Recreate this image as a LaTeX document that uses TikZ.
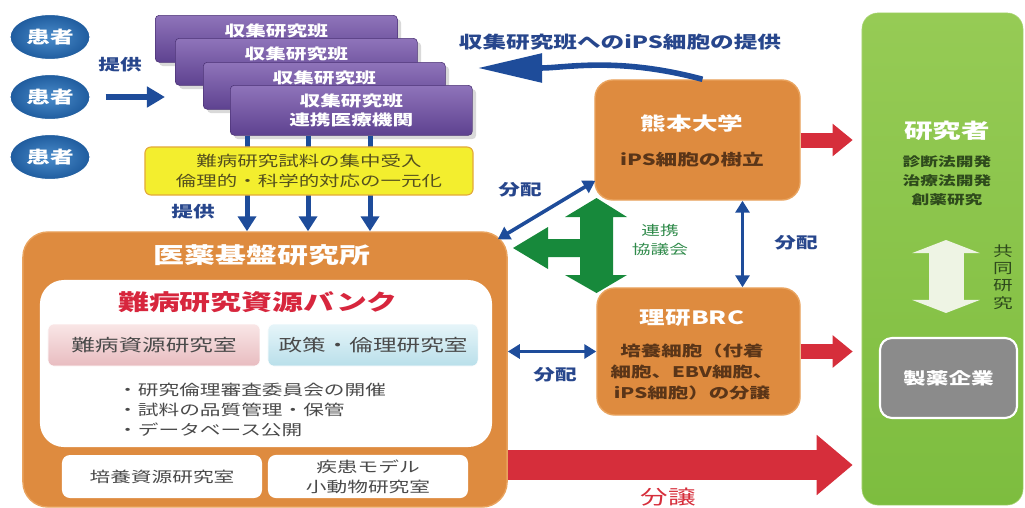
\documentclass[tikz,border=0pt]{standalone}
\usepackage{fontspec}
\setmainfont[FakeStretch=1.4]{Noto Sans CJK JP}
\usepackage{tikz}
\usetikzlibrary{arrows.meta, calc, positioning, shapes.geometric, shadows}

\definecolor{patblue}{HTML}{1F5C9E}
\definecolor{patlight}{HTML}{4A8CCB}
\definecolor{grptop}{HTML}{8F74BA}
\definecolor{grpbot}{HTML}{5E4290}
\definecolor{grpline}{HTML}{4B3275}
\definecolor{arrblue}{HTML}{1E4C9A}
\definecolor{lblblue}{HTML}{27468C}
\definecolor{instorange}{HTML}{DE8B3F}
\definecolor{instline}{HTML}{E9A35E}
\definecolor{yelfill}{HTML}{F3EE2E}
\definecolor{yelline}{HTML}{E3A93A}
\definecolor{yeltext}{HTML}{55501E}
\definecolor{bankred}{HTML}{D7263D}
\definecolor{arrred}{HTML}{D62E3B}
\definecolor{pinktop}{HTML}{F9E6E6}
\definecolor{pinkbot}{HTML}{E8BCC0}
\definecolor{icetop}{HTML}{E6F5F9}
\definecolor{icebot}{HTML}{B9DFEA}
\definecolor{labgray}{HTML}{4A4A4A}
\definecolor{unitext}{HTML}{5A3518}
\definecolor{crossgreen}{HTML}{17893B}
\definecolor{lblgreen}{HTML}{2F8A4A}
\definecolor{paneltop}{HTML}{96CB55}
\definecolor{panelbot}{HTML}{7DBD3F}
\definecolor{darkgreen}{HTML}{2E4A1C}
\definecolor{coopwhite}{HTML}{EEF4E4}
\definecolor{pharmagray}{HTML}{8B8B8B}

\tikzset{
  patient/.style={ellipse, draw=white, line width=0.8pt, inner color=patlight, outer color=patblue,
    minimum width=2cm, minimum height=1.125cm, text=white, font=\bfseries\fontsize{12}{14}\selectfont},
  grpbox/.style={draw=grpline, rounded corners=0.1cm, top color=grptop, bottom color=grpbot,
    drop shadow={opacity=0.3}, minimum width=6.05cm, minimum height=1.175cm, anchor=north west,
    text=white, font=\bfseries\fontsize{10.5}{14}\selectfont, align=center},
  grptext/.style={text=white, font=\bfseries\fontsize{10.5}{14}\selectfont},
  bluelbl/.style={text=lblblue, font=\bfseries\fontsize{11}{13}\selectfont},
  givearr/.style={draw=arrblue, line width=0.15cm, -{Triangle[length=0.45cm, width=0.5cm]}},
  supply/.style={draw=arrblue, line width=0.125cm, -{Triangle[length=0.375cm, width=0.45cm]}},
  dist/.style={draw=arrblue, line width=0.09cm,
    {Triangle[length=0.3cm, width=0.35cm]}-{Triangle[length=0.3cm, width=0.35cm]}},
  ipsarr/.style={draw=arrblue, line width=0.14cm, -{Triangle[length=1.6cm, width=0.7cm]}},
  yelbox/.style={draw=yelline, line width=0.8pt, fill=yelfill, rounded corners=0.15cm,
    minimum width=8.2cm, minimum height=1.2cm, align=center, text=yeltext,
    font=\fontsize{10.4}{14.2}\selectfont},
  inst/.style={draw=instline, line width=1pt, fill=instorange, rounded corners=0.625cm,
    minimum width=12.1cm, minimum height=6.875cm},
  bank/.style={fill=white, rounded corners=0.6cm, minimum width=11.3cm, minimum height=4.175cm},
  lab/.style={rounded corners=0.15cm, draw=white, minimum height=1.05cm, text=labgray,
    font=\fontsize{12}{14}\selectfont},
  sublab/.style={fill=white, rounded corners=0.2cm, minimum width=5cm, minimum height=1.075cm,
    align=center, text=labgray, font=\fontsize{10.5}{14.2}\selectfont},
  unibox/.style={fill=instorange, draw=instline, line width=1pt, rounded corners=0.45cm},
  unititle/.style={text=white, font=\bfseries\fontsize{13}{16}\selectfont},
  unitxt/.style={text=unitext, align=center},
  redarr/.style={draw=arrred, line width=0.375cm, -{Triangle[length=0.5cm, width=0.78cm]}},
  bigred/.style={draw=arrred, line width=0.75cm, -{Triangle[length=0.9cm, width=1.45cm]}},
  panel/.style={top color=paneltop, bottom color=panelbot, draw=paneltop!80!white,
    rounded corners=0.4cm, minimum width=4.025cm, minimum height=12.3cm},
  restext/.style={text=darkgreen, align=center, font=\bfseries\fontsize{9}{13.5}\selectfont},
  coop/.style={draw=coopwhite, line width=0.875cm,
    {Triangle[length=0.33cm, width=1.7cm]}-{Triangle[length=0.33cm, width=1.7cm]}},
  pharma/.style={fill=pharmagray, draw=white, line width=1.5pt, rounded corners=0.3cm,
    minimum width=3.425cm, minimum height=2cm, text=white, font=\bfseries\fontsize{11.5}{14}\selectfont}
}

\begin{document}
\begin{tikzpicture}[x=0.025cm, y=-0.025cm]
\useasboundingbox (0,0) rectangle (1025,507);

% patients
\node[patient] (pat1) at (50,37) {患者};
\node[patient] (pat2) at (50,97) {患者};
\node[patient] (pat3) at (50,157) {患者};
\node[bluelbl] (give1) at (120,65) {提供};
\coordinate (givetip) at (165,97);
\draw[givearr, shorten <=0.375cm] (pat2) -- (givetip);

% collection groups
\foreach \i/\x/\y in {1/155/15, 2/175/38, 3/203/62} {
  \node[grpbox] (grp\i) at (\x,\y) {};
  \node[grptext] (grptxt\i) at ($(grp\i.north)+(0,16)$) {収集研究班};
}
\node[grpbox, minimum height=1.25cm] (grp4) at (230,85) {収集研究班\\連携医療機関};

% institute
\node[inst] (inst) at (265,369.5) {};
\node[text=white, font=\bfseries\fontsize{15.7}{18}\selectfont] (insttl) at (262,255) {医薬基盤研究所};

\foreach \x in {247,308,370}
  \draw[supply] (grp4.south -| \x,0) -- (inst.north -| \x,0);

\node[yelbox] (yel) at (309,171) {難病研究試料の集中受入\\倫理的・科学的対応の一元化};
\node[bluelbl] (give2) at (193,212) {提供};

\node[bank] (bank) at (266,363.5) {};
\node[text=bankred, font=\bfseries\fontsize{15.7}{18}\selectfont] (banktl) at (258,302) {難病研究資源バンク};
\node[lab, minimum width=5.3cm, top color=pinktop, bottom color=pinkbot] (lab1) at (154,345) {難病資源研究室};
\node[lab, minimum width=5.25cm, top color=icetop, bottom color=icebot] (lab2) at (373,345) {政策・倫理研究室};
\node[anchor=west, inner sep=0pt, align=left, text=labgray, font=\fontsize{10.5}{14.2}\selectfont]
  (duties) at (117,410) {・研究倫理審査委員会の開催\\・試料の品質管理・保管\\・データベース公開};
\node[sublab] (lab3) at (162,476.5) {培養資源研究室};
\node[sublab] (lab4) at (368,476.5) {疾患モデル\\小動物研究室};

% universities
\node[unibox, minimum width=5.125cm, minimum height=3cm] (kum) at (697.5,140) {};
\node[unititle] (kumtl) at (692,124) {熊本大学};
\node[unitxt, font=\bfseries\fontsize{11}{14}\selectfont] (kumtxt) at (692,160) {iPS細胞の樹立};
\node[unibox, minimum width=5.075cm, minimum height=3.175cm] (brc) at (698.5,351.5) {};
\node[unititle] (brctl) at (692,318) {理研BRC};
\node[unitxt, font=\bfseries\fontsize{10.4}{15}\selectfont] (brctxt) at (692,372)
  {培養細胞（付着\\細胞、EBV細胞、\\iPS細胞）の分譲};

\coordinate (ipsgive) at (478,68);
\draw[ipsarr] ($(kum.north)+(5,0)$) to[out=165, in=0] (ipsgive);
\node[bluelbl, font=\bfseries\fontsize{12}{14}\selectfont] (ipslbl) at (620,42) {収集研究班へのiPS細胞の提供};

\draw[dist] ($(inst.north east)+(-10,8)$) -- ($(kum.south west)+(1,-20)$);
\node[bluelbl] (dist1) at (520,190) {分配};
\draw[dist] ($(kum.south)+(45,0)$) -- ($(brc.north)+(44,0)$);
\node[bluelbl] (dist2) at (796,243) {分配};
\draw[dist] (inst.east |- brc.west) -- (brc.west);
\node[bluelbl] (dist3) at (555,375) {分配};

% liaison council
\fill[crossgreen] (596.5,198) -- (627,217) -- (613,217) -- (613,275) -- (627,275) -- (596.5,293)
  -- (565,275) -- (580,275) -- (580,257) -- (548,257) -- (548,269) -- (513,248) -- (548,227)
  -- (548,239) -- (580,239) -- (580,217) -- (565,217) -- cycle;
\node[text=lblgreen, align=center, font=\fontsize{9.5}{14}\selectfont] (council) at (660,240) {連携\\協議会};

% researchers
\node[panel] (res) at (942.5,259) {};
\node[text=white, font=\bfseries\fontsize{14.5}{17}\selectfont] (restl) at (947,131) {研究者};
\node[restext] (resjobs) at (947,181) {診断法開発\\治療法開発\\創薬研究};
\coordinate (coopt) at (946,240);
\coordinate (coopb) at (946,313);
\draw[coop] (coopt) -- (coopb);
\node[restext, font=\fontsize{10}{12.4}\selectfont] (cooplbl) at (1003,277) {共\\同\\研\\究};
\node[pharma] (pharma) at (948.5,378) {製薬企業};

% distribution arrows
\draw[redarr, shorten >=0.225cm] (kum.east) -- (kum.east -| res.west);
\draw[redarr, shorten >=0.225cm] (brc.east) -- (brc.east -| res.west);
\draw[bigred, shorten >=0.225cm] (inst.east |- 0,465) -- (res.west |- 0,465);
\node[text=arrred, font=\fontsize{14}{16}\selectfont] (shiplbl) at (668,497) {分譲};
\end{tikzpicture}
\end{document}
